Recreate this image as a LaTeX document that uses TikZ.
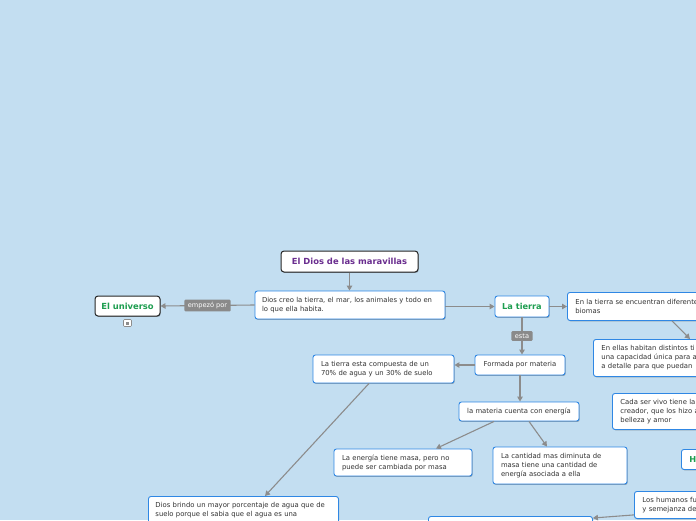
\documentclass[tikz,border=0pt]{standalone}
\usepackage{fontspec}
\setmainfont{DejaVu Sans}
\usetikzlibrary{shadows,arrows.meta,calc}
\definecolor{bg}{HTML}{C3DEF1}
\definecolor{boxblue}{HTML}{2F87E4}
\definecolor{mygreen}{HTML}{1E9E50}
\definecolor{mypurple}{HTML}{6A2D8F}
\definecolor{txt}{HTML}{333333}
\definecolor{linegray}{HTML}{8C8C8C}
\definecolor{lblgray}{HTML}{8A8A8A}
\tikzset{
  shad/.style={drop shadow={shadow xshift=0.7pt,shadow yshift=-0.9pt,fill=black,opacity=0.3}},
  box/.style={draw=boxblue, line width=0.9pt, fill=white, rounded corners=2.5pt, shad,
    font=\fontsize{6.85}{9}\selectfont, text=txt, align=left, inner xsep=8pt, inner ysep=0pt},
  cbox/.style={box, align=center},
  topic/.style={draw=black!85, line width=1pt, fill=white, rounded corners=3pt, shad,
    font=\bfseries\fontsize{8.4}{9}\selectfont, inner sep=0pt},
  gtopic/.style={draw=boxblue, line width=0.9pt, fill=white, rounded corners=2.5pt, shad,
    font=\bfseries\fontsize{8.2}{9}\selectfont, text=mygreen, inner sep=0pt},
  arr/.style={draw=linegray, line width=1.1pt, -{Triangle[length=5pt,width=5.5pt]}},
  lbl/.style={fill=lblgray, text=white, font=\fontsize{6.6}{7}\selectfont, inner xsep=3.5pt, inner ysep=2.5pt, rounded corners=1pt},
}
\begin{document}
\begin{tikzpicture}[x=1pt,y=-1pt]
\useasboundingbox (0,0) rectangle (696,520);
\fill[bg] (0,0) rectangle (696,520);
\begin{scope}
\clip (0,0) rectangle (696,520);
% nodes
\node[topic, text=mypurple, minimum width=137pt, minimum height=21pt] (root) at (349.5,261.5) {El Dios de las maravillas};
\node[box, text width=176pt, inner xsep=7pt, minimum height=28pt] (dios) at (350,305) {Dios creo la tierra, el mar, los animales y todo en\\lo que ella habita.};
\node[topic, text=mygreen, minimum width=65pt, minimum height=20pt] (univ) at (127.5,306) {El universo};
\node[draw=linegray, line width=0.6pt, fill=white, rounded corners=1pt, minimum width=8pt, minimum height=7pt, inner sep=0pt] (icon) at (127.5,323) {};
\node[fill=linegray, minimum size=3pt, inner sep=0pt] (icondot) at (icon.center) {};
\node[gtopic, minimum width=54pt, minimum height=21pt] (tierra) at (522,306.5) {La tierra};
\node[box, anchor=north west, text width=170pt, minimum height=28pt] (biomas) at (567,292) {En la tierra se encuentran diferentes\\biomas};
\node[box, anchor=north west, text width=170pt, minimum height=37pt] (habitan) at (593,339) {En ellas habitan distintos ti\\una capacidad única para a\\a detalle para que puedan};
\node[cbox, text width=76pt, inner xsep=7pt, minimum height=20pt] (formada) at (520,365) {Formada por materia};
\node[box, text width=125pt, minimum height=28pt] (compuesta) at (383.5,369) {La tierra esta compuesta de un\\70\% de agua y un 30\% de suelo};
\node[cbox, text width=106pt, inner xsep=7pt, minimum height=19pt] (materia) at (519,411.5) {la materia cuenta con energía};
\node[box, text width=122pt, minimum height=27pt] (energia) at (403,462.5) {La energía tiene masa, pero no\\puede ser cambiada por masa};
\node[box, text width=118pt, minimum height=37pt] (cantidad) at (560,465.5) {La cantidad mas diminuta de\\masa tiene una cantidad de\\energía asociada a ella};
\node[box, anchor=north west, text width=120pt, minimum height=36pt] (cada) at (612,393) {Cada ser vivo tiene la\\creador, que los hizo a\\belleza y amor};
\node[gtopic, anchor=north west, text width=40pt, inner xsep=8pt, minimum height=20pt, align=left] (hnode) at (681,449) {H};
\node[box, anchor=north west, text width=120pt, minimum height=27pt] (humanos) at (634,491) {Los humanos fu\\y semejanza de};
\node[box, anchor=north west, minimum width=164pt, minimum height=30pt] (bottom) at (428,516) {};
\node[box, anchor=north west, text width=176pt, inner xsep=7pt, inner ysep=6pt] (brindo) at (148,496) {Dios brindo un mayor porcentaje de agua que de\\suelo porque el sabia que el agua es una\\\strut};
% connectors
\draw[arr] (root.south) -- (root.south |- dios.north);
\draw[arr] (dios.west) -- node[lbl] (lblemp) {empezó por} (univ.east);
\draw[arr] (dios.east |- tierra) -- (tierra.west);
\draw[arr] (tierra.east) -- (biomas.west |- tierra);
\draw[arr] (672,0 |- biomas.south) -- (690,0 |- habitan.north);
\draw[arr] (tierra.south) -- node[lbl] (lblesta) {esta} (tierra.south |- formada.north);
\draw[arr] (formada.west) -- (compuesta.east |- formada);
\draw[arr] (formada.south) -- (formada.south |- materia.north);
\draw[arr] (494,0 |- materia.south) -- (436,0 |- energia.north);
\draw[arr] (529,0 |- materia.south) -- (547,0 |- cantidad.north);
\draw[arr] (369,0 |- compuesta.south) -- (265,0 |- brindo.north);
\draw[arr] ($(humanos.south west)+(0,-4)$) -- ($(bottom.north east)+(0,2)$);
\end{scope}
\end{tikzpicture}
\end{document}
